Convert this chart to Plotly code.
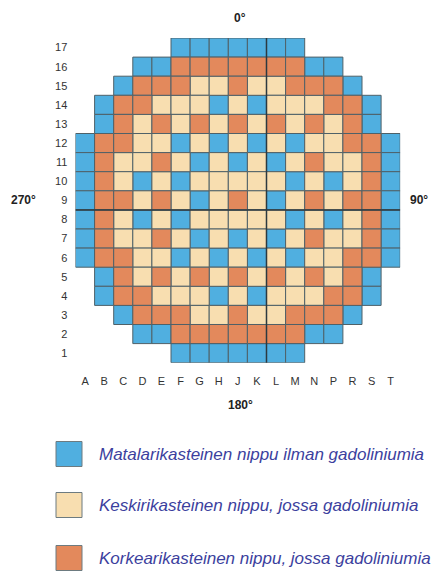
import plotly.graph_objects as go

W, H = 438, 573

row_numbers = list(range(17, 0, -1))
col_labels = ["A", "B", "C", "D", "E", "F", "G", "H", "J", "K",
              "L", "M", "N", "P", "R", "S", "T"]

# Core loading map, rows 17 (top) .. 1 (bottom), columns A..T
# B = low-enriched without Gd, L = medium-enriched with Gd, O = high-enriched with Gd
core_rows = [
    ".....BBBBBBB.....",  # 17
    "...BBOOOOOOOBB...",  # 16
    "..BOOOLLOLLOOOB..",  # 15
    ".BOOLLLBLBLLLOOB.",  # 14
    ".BOLOLOLOLOLOLOB.",  # 13
    "BOOLLBLBLBLBLLOOB",  # 12
    "BOLLOLBLBLBLOLLOB",  # 11
    "BOLBLBLLLLLBLBLOB",  # 10
    "BOOLOLBLOLBLOLOOB",  # 9
    "BOLBLBLLLLLBLBLOB",  # 8
    "BOLLOLBLBLBLOLLOB",  # 7
    "BOOLLBLBLBLBLLOOB",  # 6
    ".BOLOLOLOLOLOLOB.",  # 5
    ".BOOLLLBLBLLLOOB.",  # 4
    "..BOOOLLOLLOOOB..",  # 3
    "...BBOOOOOOOBB...",  # 2
    ".....BBBBBBB.....",  # 1
]

category_codes = ["B", "L", "O"]
category_names = [
    "Matalarikasteinen nippu ilman gadoliniumia",
    "Keskirikasteinen nippu, jossa gadoliniumia",
    "Korkearikasteinen nippu, jossa gadoliniumia",
]
category_colors = ["#50afe0", "#f8deb0", "#e3895c"]

direction_labels = {"top": "0°", "right": "90°", "bottom": "180°", "left": "270°"}

BORDER = "#4f6168"

# geometry (pixels)
gx0, gx1 = 75.5, 400.2
gy0, gy1 = 38.0, 362.7
cell = (gx1 - gx0) / 17.0


def py(p):
    return 1 - p / H


def pxx(p):
    return p / W


fig = go.Figure()

for code, name, color in zip(category_codes, category_names, category_colors):
    xs, ys = [], []
    for r_idx, row in enumerate(core_rows):
        for c_idx, ch in enumerate(row):
            if ch == code:
                xs.append(c_idx)
                ys.append(row_numbers[r_idx])
    fig.add_trace(go.Scatter(
        x=xs, y=ys, mode="markers", name=name, showlegend=False,
        hoverinfo="skip",
        marker=dict(symbol="square", size=cell, color=color,
                    line=dict(color=BORDER, width=1)),
    ))

# darker reference lines
fig.add_shape(type="line", x0=9.5, x1=9.5, y0=0.5, y1=17.5,
              xref="x", yref="y", line=dict(color="#2c3a40", width=1.5))
fig.add_shape(type="line", x0=-0.5, x1=16.5, y0=8.5, y1=8.5,
              xref="x", yref="y", line=dict(color="#2c3a40", width=1.5))

annotations = []
dir_font = dict(family="Liberation Sans, Arial, sans-serif", size=12, color="#222222")
for key, (xp, yp) in {"top": (240, 18), "bottom": (240, 405),
                      "left": (23, 200), "right": (419, 200)}.items():
    annotations.append(dict(text="<b>%s</b>" % direction_labels[key],
                            x=pxx(xp), y=py(yp), xref="paper", yref="paper",
                            xanchor="center", yanchor="middle",
                            showarrow=False, font=dir_font))

# legend
legend_y = [454, 505, 558]
for yc, name, color in zip(legend_y, category_names, category_colors):
    fig.add_shape(type="rect", xref="paper", yref="paper",
                  x0=pxx(56), x1=pxx(82), y0=py(yc - 12.5), y1=py(yc + 12.5),
                  fillcolor=color, line=dict(color="#6d7b80", width=1))
    annotations.append(dict(text="<i>%s</i>" % name, x=pxx(97), y=py(yc),
                            xref="paper", yref="paper",
                            xanchor="left", yanchor="middle",
                            showarrow=False,
                            font=dict(family="Liberation Sans, Arial, sans-serif",
                                      size=17, color="#3c3f9e")))

tick_font = dict(family="Liberation Sans, Arial, sans-serif", size=11, color="#333333")

fig.update_layout(
    width=W, height=H,
    margin=dict(l=0, r=0, t=0, b=0),
    paper_bgcolor="white", plot_bgcolor="white",
    annotations=annotations,
    xaxis=dict(domain=[gx0 / W, gx1 / W], range=[-0.5, 16.5],
               tickmode="array", tickvals=list(range(17)), ticktext=col_labels,
               ticks="outside", ticklen=8, tickcolor="rgba(0,0,0,0)",
               showgrid=False, zeroline=False, showline=False,
               fixedrange=True, automargin=False, tickfont=tick_font),
    yaxis=dict(domain=[py(gy1), py(gy0)], range=[0.5, 17.5],
               tickmode="array", tickvals=row_numbers,
               ticktext=[str(n) for n in row_numbers],
               ticks="outside", ticklen=5, tickcolor="rgba(0,0,0,0)",
               showgrid=False, zeroline=False, showline=False,
               fixedrange=True, automargin=False, tickfont=tick_font),
)

fig.write_html(
    "out.html",
    config={"displayModeBar": False},
    post_script="document.body.style.margin='0';document.body.style.overflow='hidden';",
)
